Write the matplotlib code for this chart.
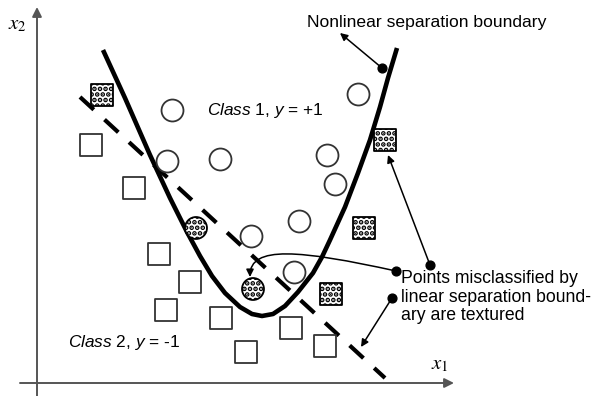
import matplotlib
matplotlib.use("Agg")
import matplotlib.pyplot as plt
from matplotlib.patches import FancyArrowPatch
from matplotlib.path import Path

plt.rcParams['font.family'] = ['Liberation Sans', 'DejaVu Sans']
plt.rcParams['mathtext.fontset'] = 'custom'
plt.rcParams['mathtext.rm'] = 'Liberation Sans'
plt.rcParams['mathtext.it'] = 'Liberation Sans:italic'
plt.rcParams['hatch.linewidth'] = 2.4

# positions (pixel units, y down)
circle_x = [172, 167, 220, 327, 335, 299, 251, 294, 358]
circle_y = [110, 161, 159, 155, 184, 221, 236, 272, 94]
tex_circle_x = [196, 253]
tex_circle_y = [228, 289]
square_x = [91, 134, 159, 190, 166, 221, 246, 291, 325]
square_y = [145, 188, 254, 282, 310, 318, 352, 328, 346]
tex_square_x = [102, 385, 364, 331]
tex_square_y = [95, 140, 228, 294]

# nonlinear boundary
curve_x = [103, 125, 150, 170, 187, 200, 212, 225, 240, 252, 262, 273,
           285, 298, 313, 322, 330, 345, 358, 370, 380, 388, 397]
curve_y = [50, 98, 155, 198, 232, 256, 276, 293, 307, 314, 316, 314,
           306, 292, 273, 257, 240, 207, 173, 140, 107, 78, 48]

# linear boundary end points
linear_x = [80, 385]
linear_y = [97, 378]

fig = plt.figure(figsize=(5.92, 3.96), dpi=100)
ax = fig.add_axes([0, 0, 1, 1])
ax.set_xlim(0, 592)
ax.set_ylim(396, 0)
ax.axis('off')

# axes with arrows
axis_kw = dict(arrowstyle='-|>', color='#555555', lw=1.4, mutation_scale=14,
               shrinkA=0, shrinkB=0)
ax.annotate('', xy=(37, 7), xytext=(37, 396), arrowprops=axis_kw)
ax.annotate('', xy=(454, 383), xytext=(20, 383), arrowprops=axis_kw)
ax.text(17, 24, r'$x_2$', math_fontfamily='stix', fontsize=15,
        ha='center', va='center')
ax.text(440, 365, r'$x_1$', math_fontfamily='stix', fontsize=15,
        ha='center', va='center')

# boundaries
ax.plot(curve_x, curve_y, color='black', lw=3.3, solid_joinstyle='round',
        solid_capstyle='butt', zorder=2)
ax.plot(linear_x, linear_y, color='black', lw=3.0,
        linestyle=(0, (4.5, 3.5)), dash_capstyle='butt', zorder=2)

# points
mk = dict(s=250, facecolor='white', edgecolor='#333333', linewidths=1.3, zorder=3)
ax.scatter(circle_x, circle_y, marker='o', **mk)
ax.scatter(square_x, square_y, marker='s', **mk)
tk = dict(s=250, facecolor='white', edgecolor='black', linewidths=1.3,
          hatch='...', zorder=3)
ax.scatter(tex_circle_x, tex_circle_y, marker='o', **tk)
ax.scatter(tex_square_x, tex_square_y, marker='s', **tk)

# annotations
arr = dict(arrowstyle='-|>', color='black', lw=1.1, mutation_scale=11,
           shrinkA=0, shrinkB=0)
ax.annotate('', xy=(340, 33), xytext=(382, 68), arrowprops=arr)
ax.annotate('', xy=(388, 155), xytext=(430, 265), arrowprops=arr)
ax.annotate('', xy=(361, 347), xytext=(392, 298), arrowprops=arr)
hook = Path([(396, 271), (300, 250), (250, 245), (250, 277)],
            [Path.MOVETO, Path.CURVE4, Path.CURVE4, Path.CURVE4])
ax.add_patch(FancyArrowPatch(path=hook, arrowstyle='-|>', color='black',
                             lw=1.1, mutation_scale=11, zorder=4))
ax.scatter([382, 430, 392, 396], [68, 265, 298, 271], s=40, color='black',
           zorder=5)

ax.text(307, 23, 'Nonlinear separation boundary', fontsize=12.6, va='center')
ax.text(207, 110, r'$\mathit{Class}$ 1, $\mathit{y}$ = +1', fontsize=12.4,
        va='center')
ax.text(68, 343, r'$\mathit{Class}$ 2, $\mathit{y}$ = -1', fontsize=12.4,
        va='center')
ax.text(401, 297, 'Points misclassified by\nlinear separation bound-\nary are textured',
        fontsize=12.7, va='center', linespacing=1.15)

fig.savefig('out.png', dpi=100)
